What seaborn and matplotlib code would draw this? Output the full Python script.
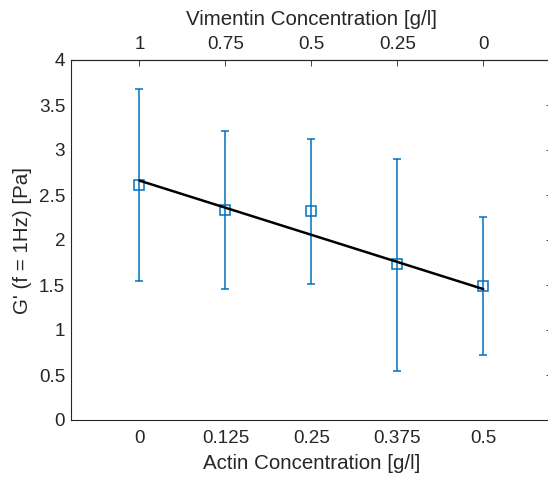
import numpy as np
import pandas as pd
import matplotlib
matplotlib.use("Agg")
import matplotlib.pyplot as plt
import seaborn as sns

# --- Data ---
actin = [0, 0.125, 0.25, 0.375, 0.5]
g_mean = [2.607, 2.33, 2.32, 1.73, 1.49]
g_upper = [3.674, 3.215, 3.122, 2.90, 2.259]
g_lower = [1.544, 1.456, 1.515, 0.548, 0.726]
fit_x = [0, 0.5]
fit_y = [2.66, 1.455]
vim_ticks = [0, 0.125, 0.25, 0.375, 0.5]
vim_labels = ["1", "0.75", "0.5", "0.25", "0"]
x_ticks = [0, 0.125, 0.25, 0.375, 0.5]
x_labels = ["0", "0.125", "0.25", "0.375", "0.5"]

blue = "#0072BD"
axis_col = "#262626"

sns.set_style("white")
plt.rcParams["font.family"] = ["Liberation Sans", "DejaVu Sans"]

fig = plt.figure(figsize=(5.48, 4.8), dpi=100)
# axes right edge runs past the figure border like the cropped original
ax = fig.add_axes([70.7 / 548, 60 / 480, (552 - 70.7) / 548, 360 / 480])

df = pd.DataFrame({"actin": actin, "G": g_mean})
yerr = np.array([np.array(g_mean) - np.array(g_lower),
                 np.array(g_upper) - np.array(g_mean)])
ax.errorbar(df["actin"], df["G"], yerr=yerr, fmt="s", color=blue,
            mfc="none", mec=blue, ms=6.5, mew=1.1, elinewidth=1.1,
            capsize=3, capthick=1.1, zorder=2)

fit = pd.DataFrame({"x": fit_x, "y": fit_y})
sns.lineplot(data=fit, x="x", y="y", color="black", lw=1.8, ax=ax, zorder=3)

ax.set_xlim(-0.1, 0.6)
ax.set_ylim(0, 4)
ax.set_xticks(x_ticks)
ax.set_xticklabels(x_labels)
ax.set_yticks(np.arange(0, 4.01, 0.5))
ax.set_yticklabels(["0", "0.5", "1", "1.5", "2", "2.5", "3", "3.5", "4"])
ax.set_xlabel("Actin Concentration [g/l]", fontsize=14.8, color=axis_col, labelpad=5)
ax.set_ylabel("G' (f = 1Hz) [Pa]", fontsize=14.8, color=axis_col, labelpad=5)
ax.tick_params(axis="x", direction="in", length=4, width=0.6, colors=axis_col,
               labelsize=13.6, pad=7)
ax.tick_params(axis="y", direction="in", length=4, width=0.6, colors=axis_col,
               labelsize=13.6, right=True, pad=4)

top = ax.secondary_xaxis("top")
top.set_xticks(vim_ticks)
top.set_xticklabels(vim_labels)
top.set_xlabel("Vimentin Concentration [g/l]", fontsize=14.8, color=axis_col, labelpad=8)
top.tick_params(direction="in", length=4, width=0.6, colors=axis_col,
                labelsize=13.6, pad=5)

for s in list(ax.spines.values()) + list(top.spines.values()):
    s.set_color(axis_col)
    s.set_linewidth(0.8)
ax.spines["right"].set_visible(False)
top.spines["right"].set_visible(False)
top.spines["left"].set_visible(False)

fig.savefig("out.png", dpi=100, facecolor="white", edgecolor="none")
